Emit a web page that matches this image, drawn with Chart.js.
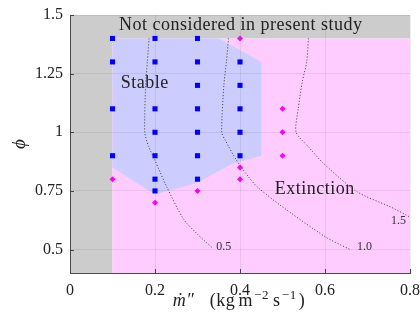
<!DOCTYPE html>
<html>
<head>
<meta charset="utf-8">
<script src="https://cdn.jsdelivr.net/npm/chart.js@4"></script>
<style>
  html, body { margin: 0; padding: 0; background: #ffffff; }
  canvas { display: block; }
</style>
</head>
<body>
<canvas id="chart" width="420" height="321"></canvas>
<script>
// Axis ticks
const xTicks = [0, 0.2, 0.4, 0.6, 0.8];
const yTicks = [0.5, 0.75, 1, 1.25, 1.5];

// Test conditions: stable flames
const stableX = [0.1, 0.1, 0.1, 0.1,
                 0.2, 0.2, 0.2, 0.2, 0.2, 0.2, 0.2,
                 0.3, 0.3, 0.3, 0.3, 0.3, 0.3, 0.3,
                 0.4, 0.4, 0.4, 0.4, 0.4];
const stableY = [1.4, 1.3, 1.1, 0.9,
                 1.4, 1.3, 1.1, 1.0, 0.9, 0.8, 0.75,
                 1.4, 1.3, 1.2, 1.1, 1.0, 0.9, 0.8,
                 1.3, 1.2, 1.1, 1.0, 0.9];

// Test conditions: extinction
const extinctX = [0.1, 0.2, 0.3, 0.4, 0.4, 0.4, 0.5, 0.5, 0.5];
const extinctY = [0.8, 0.7, 0.75, 1.4, 0.85, 0.8, 1.1, 1.0, 0.9];

// Regions of the map
const excludedX = [0, 0, 0.8, 0.8, 0.1, 0.1, 0];
const excludedY = [0.4, 1.5, 1.5, 1.4, 1.4, 0.4, 0.4];
const extinctRegionX = [0.1, 0.1, 0.8, 0.8, 0.1];
const extinctRegionY = [0.4, 1.4, 1.4, 0.4, 0.4];
const stableRegionX = [0.1, 0.35, 0.45, 0.45, 0.38, 0.3, 0.2, 0.1, 0.1];
const stableRegionY = [1.4, 1.4, 1.3, 0.9, 0.865, 0.785, 0.735, 0.85, 1.4];

// Iso-lines
const iso05X = [0.186, 0.182, 0.178, 0.176, 0.185, 0.2, 0.227, 0.267, 0.3, 0.333];
const iso05Y = [1.4, 1.3, 1.2, 1.0, 0.94, 0.88, 0.77, 0.63, 0.565, 0.51];
const iso10X = [0.373, 0.368, 0.362, 0.357, 0.365, 0.392, 0.42, 0.44, 0.494, 0.6, 0.659];
const iso10Y = [1.4, 1.3, 1.2, 1.0, 0.967, 0.88, 0.81, 0.768, 0.69, 0.555, 0.5];
const iso15X = [0.561, 0.557, 0.547, 0.537, 0.532, 0.56, 0.596, 0.675, 0.761, 0.8];
const iso15Y = [1.4, 1.3, 1.22, 1.1, 1.0, 0.94, 0.868, 0.747, 0.676, 0.638];
const isoLabels = ['0.5', '1.0', '1.5'];

const pts = (xs, ys) => xs.map((x, i) => ({ x, y: ys[i] }));

const SERIF = '"Liberation Serif", "DejaVu Serif", serif';
const INK = '#222222';
const AXIS = '#4a4a4a';

// Region labels and iso-line labels placed in data coordinates
const notes = [
  { text: 'Not considered in present study', x: 0.402, y: 1.456, size: 18, spacing: 0.5, color: INK },
  { text: 'Stable', x: 0.176, y: 1.21, size: 18, spacing: 0.5, color: INK },
  { text: 'Extinction', x: 0.576, y: 0.758, size: 18, spacing: 0.5, color: INK },
  { text: isoLabels[0], x: 0.362, y: 0.513, size: 12, spacing: 0, color: '#333333' },
  { text: isoLabels[1], x: 0.693, y: 0.513, size: 12, spacing: 0, color: '#333333' },
  { text: isoLabels[2], x: 0.773, y: 0.622, size: 12, spacing: 0, color: '#333333' }
];

const annotate = {
  id: 'annotate',
  afterDatasetsDraw(chart) {
    const { ctx, scales: { x, y }, chartArea } = chart;
    ctx.save();
    ctx.textAlign = 'center';
    ctx.textBaseline = 'middle';
    notes.forEach(n => {
      ctx.font = n.size + 'px ' + SERIF;
      ctx.letterSpacing = n.spacing + 'px';
      ctx.fillStyle = n.color;
      ctx.fillText(n.text, x.getPixelForValue(n.x), y.getPixelForValue(n.y));
    });
    ctx.letterSpacing = '0px';
    // inward tick marks
    ctx.strokeStyle = AXIS;
    ctx.lineWidth = 1;
    ctx.beginPath();
    xTicks.forEach(v => {
      const px = Math.round(x.getPixelForValue(v)) + 0.5;
      ctx.moveTo(px, chartArea.bottom);
      ctx.lineTo(px, chartArea.bottom - 4);
    });
    yTicks.forEach(v => {
      const py = Math.round(y.getPixelForValue(v)) + 0.5;
      ctx.moveTo(chartArea.left, py);
      ctx.lineTo(chartArea.left + 4, py);
    });
    ctx.stroke();
    ctx.restore();
  },
  afterDraw(chart) {
    const { ctx, chartArea } = chart;
    // x-axis title with italic symbol and raised exponents
    const parts = [
      { t: 'ṁ″', style: 'italic ', size: 18, dy: 0, gap: 0 },
      { t: '   (kg', style: '', size: 18, dy: 0, gap: 0 },
      { t: 'm', style: '', size: 18, dy: 0, gap: 3 },
      { t: '−2', style: '', size: 13, dy: -7, gap: 1 },
      { t: 's', style: '', size: 18, dy: 0, gap: 4 },
      { t: '−1', style: '', size: 13, dy: -7, gap: 1 },
      { t: ')', style: '', size: 18, dy: 0, gap: 2 }
    ];
    ctx.save();
    ctx.fillStyle = INK;
    ctx.textBaseline = 'alphabetic';
    ctx.textAlign = 'left';
    ctx.letterSpacing = '0.6px';
    let total = 0;
    parts.forEach(p => {
      ctx.font = p.style + p.size + 'px ' + SERIF;
      p.w = ctx.measureText(p.t).width;
      total += p.w + p.gap;
    });
    const cx = (chartArea.left + chartArea.right) / 2 - 1;
    let px = cx - total / 2;
    const base = 306;
    parts.forEach(p => {
      ctx.font = p.style + p.size + 'px ' + SERIF;
      px += p.gap;
      ctx.fillText(p.t, px, base + p.dy);
      px += p.w;
    });
    ctx.restore();
  }
};

const isoStyle = {
  showLine: true, fill: false, pointRadius: 0, borderColor: '#3a3a3a',
  borderWidth: 1, borderDash: [1, 2], tension: 0.25
};
const regionStyle = { showLine: true, fill: 'shape', pointRadius: 0, borderWidth: 0, tension: 0 };

new Chart(document.getElementById('chart'), {
  type: 'scatter',
  data: {
    datasets: [
      { label: 'Stable', data: pts(stableX, stableY), pointStyle: 'rect',
        pointRadius: 3.6, backgroundColor: '#0000ff', borderColor: '#0000ff', borderWidth: 0, order: 0 },
      { label: 'Extinction', data: pts(extinctX, extinctY), pointStyle: 'rectRot',
        pointRadius: 3, backgroundColor: '#ff00ff', borderColor: '#ff00ff', borderWidth: 0, order: 0 },
      Object.assign({ label: 'iso 0.5', data: pts(iso05X, iso05Y), order: 1 }, isoStyle),
      Object.assign({ label: 'iso 1.0', data: pts(iso10X, iso10Y), order: 1 }, isoStyle),
      Object.assign({ label: 'iso 1.5', data: pts(iso15X, iso15Y), order: 1 }, isoStyle),
      Object.assign({ label: 'stable region', data: pts(stableRegionX, stableRegionY),
        backgroundColor: '#ccccff', borderColor: '#ccccff', order: 2 }, regionStyle),
      Object.assign({ label: 'extinction region', data: pts(extinctRegionX, extinctRegionY),
        backgroundColor: '#ffccff', borderColor: '#ffccff', order: 3 }, regionStyle),
      Object.assign({ label: 'excluded', data: pts(excludedX, excludedY),
        backgroundColor: '#cccccc', borderColor: '#cccccc', order: 4 }, regionStyle)
    ]
  },
  options: {
    responsive: false,
    animation: false,
    devicePixelRatio: 1,
    layout: { padding: { top: 15, right: 10, left: 0, bottom: 0 } },
    plugins: { legend: { display: false }, tooltip: { enabled: false } },
    scales: {
      x: {
        type: 'linear', min: 0, max: 0.8,
        afterBuildTicks: s => { s.ticks = xTicks.map(v => ({ value: v })); },
        afterFit: s => { s.height = 48; s.paddingLeft = 0; s.paddingRight = 0; },
        ticks: { font: { family: SERIF, size: 16 }, color: INK, padding: 8,
                 maxRotation: 0, callback: v => String(v) },
        grid: { color: 'rgba(0,0,0,0.07)', lineWidth: 1, drawTicks: false, z: 1 },
        border: { display: true, color: AXIS, width: 1, z: 1 }
      },
      y: {
        type: 'linear', min: 0.4, max: 1.5,
        afterBuildTicks: s => { s.ticks = yTicks.map(v => ({ value: v })); },
        afterFit: s => { s.width = 70; s.paddingTop = 0; s.paddingBottom = 0; },
        ticks: { font: { family: SERIF, size: 16 }, color: INK, padding: 7,
                 callback: v => String(v) },
        grid: { color: 'rgba(0,0,0,0.07)', lineWidth: 1, drawTicks: false, z: 1 },
        border: { display: true, color: AXIS, width: 1, z: 1 },
        title: { display: true, text: 'ϕ', color: INK,
                 font: { family: SERIF, size: 19, style: 'italic' }, padding: { top: 9 } }
      }
    }
  },
  plugins: [annotate]
});
</script>
</body>
</html>
